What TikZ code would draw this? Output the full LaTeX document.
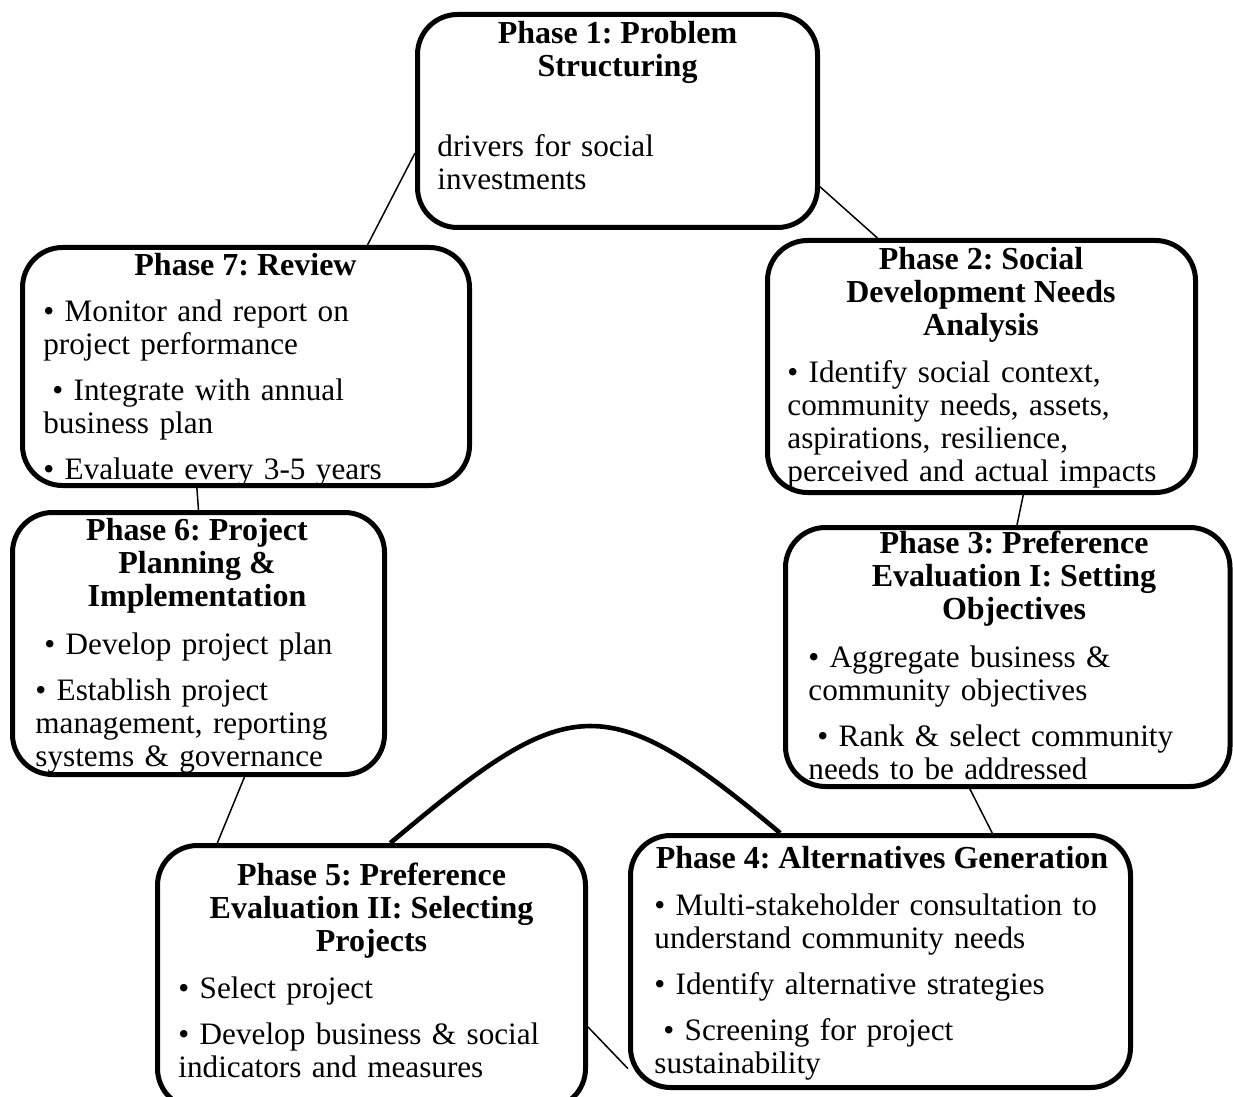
\documentclass[tikz,border=0pt]{standalone}
\usepackage{fontspec}
\setmainfont{Liberation Serif}
\usepackage{tikz}
\usetikzlibrary{positioning}
\frenchspacing
\newcommand{\leadspace}{\hspace*{4.5pt}}
\newcommand{\plotPhaseBox}[5]
{
	\node[phasebox, minimum width=#4, minimum height=#5] (#1) at (#2,#3) {};
}

\begin{document}
\begin{tikzpicture}[x=0.5pt,y=-0.5pt,
	phasebox/.style={draw, line width=2.5pt, rounded corners=20pt, inner sep=0pt},
	phasetitle/.style={font=\fontsize{16}{16.5}\selectfont\bfseries, align=center, inner sep=0pt, anchor=north},
	phasetext/.style={font=\fontsize{15.6}{16.5}\selectfont, text width=300pt, align=left, inner sep=0pt, anchor=north west},
	link/.style={line width=0.75pt},
	biglink/.style={line width=2.3pt}]
\useasboundingbox (0,0) rectangle (1233,1097);

\plotPhaseBox{p1}{617.5}{121}{200pt}{106.5pt}
\plotPhaseBox{p2}{981.5}{366.5}{214pt}{126pt}
\plotPhaseBox{p3}{1007.75}{657}{222.25pt}{129.5pt}
\plotPhaseBox{p4}{880.5}{961.5}{250pt}{126pt}
\plotPhaseBox{p5}{371.5}{977}{214pt}{131.5pt}
\plotPhaseBox{p6}{198.5}{643.5}{186pt}{131pt}
\plotPhaseBox{p7}{246}{366.5}{223.5pt}{119pt}

\node[phasetitle] (t1) at (617.5,20.2) {\strut Phase 1: Problem\\Structuring};
\node[phasetext] (b1) at (437,132.6) {\strut drivers for social\\investments};

\node[phasetitle] (t2) at (981,245.9) {\strut Phase 2: Social\\Development Needs\\Analysis};
\node[phasetext] (b2) at (787,358.9) {\strut • Identify social context,\\community needs, assets,\\aspirations, resilience,\\perceived and actual impacts};

\node[phasetitle] (t3) at (1014,529.9) {\strut Phase 3: Preference\\Evaluation I: Setting\\Objectives};
\node[phasetext] (b3) at (808,643.9) {\strut • Aggregate business \&\\community objectives\\[6.5pt]\leadspace• Rank \& select community\\needs to be addressed};

\node[phasetitle] (t4) at (882,844.9) {\strut Phase 4: Alternatives Generation};
\node[phasetext] (b4) at (654,891.9) {\strut • Multi-stakeholder consultation to\\understand community needs\\[6.5pt]• Identify alternative strategies\\[6.5pt]\leadspace• Screening for project\\sustainability};

\node[phasetitle] (t5) at (371.5,861.9) {\strut Phase 5: Preference\\Evaluation II: Selecting\\Projects};
\node[phasetext] (b5) at (178,974.9) {\strut • Select project\\[6.5pt]• Develop business \& social\\indicators and measures};

\node[phasetitle] (t6) at (197,516.9) {\strut Phase 6: Project\\Planning \&\\Implementation};
\node[phasetext] (b6) at (35,630.9) {\strut\leadspace• Develop project plan\\[6.5pt]• Establish project\\management, reporting\\systems \& governance};

\node[phasetitle] (t7) at (245.5,251.9) {\strut Phase 7: Review};
\node[phasetext] (b7) at (43,297.9) {\strut • Monitor and report on\\project performance\\[6.5pt]\leadspace• Integrate with annual\\business plan\\[6.5pt]• Evaluate every 3-5 years};

\draw[link] (p1.189) -- (p7.45);
\draw[link] (p1.342) -- (p2.129);
\draw[link] (p2.288) -- (p3.86);
\draw[link] (p3.254) -- (p4.49);
\draw[link] (p4.203) -- (p5.347);
\draw[link] (p5.139) -- (p6.289);
\draw[link] (p6.90) -- (p7.248);
\draw[biglink] (p5.82) to[out=40,in=140,distance=116pt] (p4.128);
\end{tikzpicture}
\end{document}
